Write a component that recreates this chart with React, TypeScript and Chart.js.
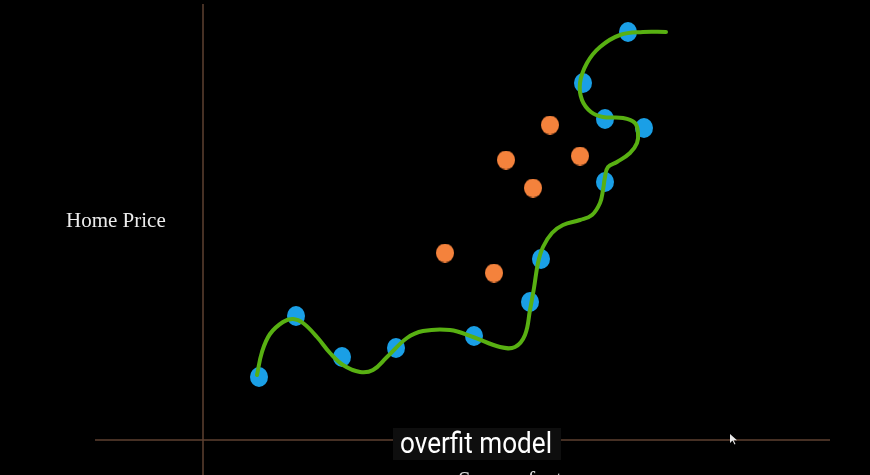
import { useEffect, useRef } from "react";
import { Chart, registerables } from "chart.js";

Chart.register(...registerables);

// Axis titles / caption
const yAxisTitle = "Home Price";
const xAxisTitle = "Square feet";
const caption = "overfit model";

// Training points (blue)
const trainSqft = [5.6, 9.3, 13.9, 19.3, 27.1, 32.7, 33.8, 40.2, 44.1, 40.2, 38.0, 42.5];
const trainPrice = [6.3, 12.4, 8.3, 9.2, 10.4, 13.8, 18.1, 25.8, 31.2, 32.1, 35.7, 40.8];

// Test points (orange)
const testSqft = [24.2, 29.1, 30.3, 33.0, 34.7, 37.7];
const testPrice = [18.7, 16.7, 28.0, 25.2, 31.5, 28.4];

// Overfit curve (green)
const curveSqft = [5.4, 5.9, 6.7, 8.0, 9.0, 10.0, 11.4, 12.7, 14.0, 15.7, 17.0, 18.4, 20.4, 22.0, 24.7, 27.0, 29.7, 31.2, 32.2, 32.7, 33.1, 33.5, 34.0, 34.9, 36.0, 37.7, 38.9, 39.7, 40.0, 40.2, 40.5, 41.4, 42.7, 43.4, 43.5, 43.2, 42.0, 40.0, 38.8, 37.9, 37.7, 38.4, 39.7, 41.7, 44.0, 46.3];
const curvePrice = [6.5, 8.8, 10.6, 11.8, 12.1, 11.7, 10.3, 8.7, 7.5, 6.8, 7.0, 8.3, 10.2, 10.9, 11.0, 10.3, 9.3, 9.3, 10.5, 13.0, 15.2, 17.7, 19.3, 20.7, 21.5, 22.0, 22.5, 23.7, 25.0, 26.3, 27.3, 27.8, 28.7, 29.7, 30.7, 31.7, 32.2, 32.3, 32.8, 34.0, 35.7, 37.7, 39.3, 40.5, 40.8, 40.8];

// Axis lines
const xAxisLineSqft = [-10.8, 62.7];
const xAxisLinePrice = [0, 0];
const yAxisLineSqft = [0, 0];
const yAxisLinePrice = [43.6, -3.5];

const xRange = [-20.3, 66.7];
const yRange = [-3.5, 44];

const zip = (xs: number[], ys: number[]) => xs.map((x, i) => ({ x, y: ys[i] }));

const ellipse = (color: string, w: number, h: number) => {
  const c = document.createElement("canvas");
  c.width = w;
  c.height = h;
  const g = c.getContext("2d")!;
  g.fillStyle = color;
  g.beginPath();
  g.ellipse(w / 2, h / 2, w / 2, h / 2, 0, 0, Math.PI * 2);
  g.fill();
  return c;
};

export default function App() {
  const ref = useRef<HTMLCanvasElement | null>(null);

  useEffect(() => {
    if (!ref.current) return;
    const axisColor = "#5e4030";
    const chart = new Chart(ref.current, {
      type: "scatter",
      data: {
        datasets: [
          {
            data: zip(curveSqft, curvePrice),
            showLine: true,
            borderColor: "#58b012",
            borderWidth: 4,
            tension: 0.4,
            pointRadius: 0,
            borderCapStyle: "round",
            borderJoinStyle: "round",
            order: 0,
          },
          {
            data: zip(trainSqft, trainPrice),
            backgroundColor: "#1a9fe6",
            borderWidth: 0,
            pointRadius: 10,
            pointStyle: ellipse("#1a9fe6", 18, 20),
            order: 1,
          },
          {
            data: zip(testSqft, testPrice),
            backgroundColor: "#f4823c",
            borderWidth: 0,
            pointRadius: 10,
            pointStyle: ellipse("#f4823c", 18, 19),
            order: 1,
          },
          {
            data: zip(xAxisLineSqft, xAxisLinePrice),
            showLine: true,
            borderColor: axisColor,
            borderWidth: 1.5,
            pointRadius: 0,
            order: 3,
          },
          {
            data: zip(yAxisLineSqft, yAxisLinePrice),
            showLine: true,
            borderColor: axisColor,
            borderWidth: 1.5,
            pointRadius: 0,
            order: 3,
          },
        ],
      } as any,
      options: {
        animation: false,
        responsive: false,
        maintainAspectRatio: false,
        layout: { padding: 0, autoPadding: false },
        plugins: { legend: { display: false }, tooltip: { enabled: false } },
        scales: {
          x: { type: "linear", display: false, min: xRange[0], max: xRange[1] },
          y: { type: "linear", display: false, min: yRange[0], max: yRange[1] },
        },
        elements: { line: { fill: false } },
      } as any,
    });
    return () => chart.destroy();
  }, []);

  return (
    <div style={{ position: "relative", width: 870, height: 475, background: "#000", overflow: "hidden" }}>
      <style>{`body{margin:0;background:#000;}`}</style>
      <canvas ref={ref} width={870} height={475} style={{ display: "block", position: "absolute", left: 0, top: 0 }} />
      <div
        style={{
          position: "absolute",
          left: 66,
          top: 210,
          fontFamily: "'Liberation Serif', serif",
          fontSize: 21,
          lineHeight: "21px",
          color: "#ececec",
          whiteSpace: "nowrap",
        }}
      >
        {yAxisTitle}
      </div>
      <div
        style={{
          position: "absolute",
          left: 458,
          top: 468,
          fontFamily: "'Liberation Serif', serif",
          fontSize: 23,
          lineHeight: "23px",
          color: "#d8d8d8",
          whiteSpace: "nowrap",
        }}
      >
        {xAxisTitle}
      </div>
      <div
        style={{
          position: "absolute",
          left: 393,
          top: 428,
          width: 168,
          height: 32,
          background: "#0e0e0e",
        }}
      />
      <div
        style={{
          position: "absolute",
          left: 400,
          top: 425,
          fontFamily: "Roboto, sans-serif",
          fontSize: 29,
          lineHeight: "36px",
          color: "#ffffff",
          whiteSpace: "nowrap",
          transform: "scaleX(0.9)",
          transformOrigin: "left center",
        }}
      >
        {caption}
      </div>
      <svg style={{ position: "absolute", left: 730, top: 434 }} width={8} height={11}>
        <polygon points="0,0 0,9 2.5,6.5 4.5,10.5 5.5,10 3.6,6.2 7,6.2" fill="#e8e8e8" />
      </svg>
    </div>
  );
}
